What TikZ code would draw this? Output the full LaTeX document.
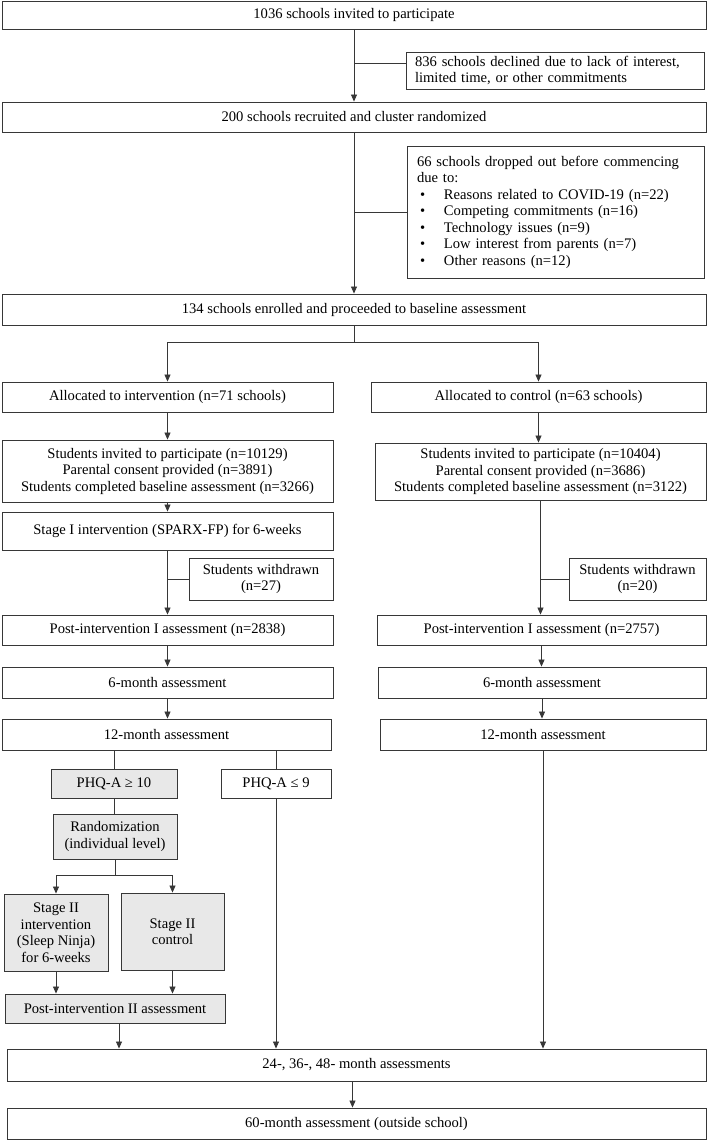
\documentclass[tikz,border=0pt]{standalone}
\usepackage{fontspec}
\setmainfont{Liberation Serif}
\usetikzlibrary{arrows.meta,calc}
\definecolor{boxgray}{RGB}{232,232,232}
\definecolor{linec}{RGB}{55,55,55}
\begin{document}
\begin{tikzpicture}[x=1pt,y=-1pt,
  box/.style={draw=linec, line width=0.9pt, fill=white, inner sep=0pt, align=center, font=\fontsize{14.6}{16.5}\selectfont},
  gbox/.style={box, fill=boxgray},
  conn/.style={draw=linec, line width=0.8pt},
  arr/.style={conn, -{Triangle[length=7pt,width=6pt]}}]
\fill[white] (0,0) rectangle (709,1140);
\useasboundingbox (0,0) rectangle (709,1140);

% top part
\node[box, minimum width=704pt, minimum height=28pt] (b1036) at (354,15) {1036 schools invited to participate};
\node[box, minimum width=298pt, minimum height=37pt, text width=280pt, inner xsep=9pt, align=left] (b836) at (555,70.5) {836 schools declined due to lack of interest,\\limited time, or other commitments};
\node[box, minimum width=704pt, minimum height=30pt] (b200) at (354,117) {200 schools recruited and cluster randomized};
\node[box, minimum width=297pt, minimum height=132pt, text width=277pt, inner xsep=10pt, align=left] (b66) at (555.5,212) {66 schools dropped out before commencing\\due to:\\
\hspace*{3pt}\makebox[24pt][l]{\textbullet}Reasons related to COVID-19 (n=22)\\
\hspace*{3pt}\makebox[24pt][l]{\textbullet}Competing commitments (n=16)\\
\hspace*{3pt}\makebox[24pt][l]{\textbullet}Technology issues (n=9)\\
\hspace*{3pt}\makebox[24pt][l]{\textbullet}Low interest from parents (n=7)\\
\hspace*{3pt}\makebox[24pt][l]{\textbullet}Other reasons (n=12)};
\node[box, minimum width=704pt, minimum height=31pt] (b134) at (354,309.5) {134 schools enrolled and proceeded to baseline assessment};

% allocation
\node[box, minimum width=331pt, minimum height=30pt] (allocL) at (167.5,397) {Allocated to intervention (n=71 schools)};
\node[box, minimum width=335pt, minimum height=30pt] (allocR) at (538.5,397) {Allocated to control (n=63 schools)};
\node[box, minimum width=331pt, minimum height=62pt] (studL) at (167.5,471) {Students invited to participate (n=10129)\\Parental consent provided (n=3891)\\Students completed baseline assessment (n=3266)};
\node[box, minimum width=331pt, minimum height=57pt] (studR) at (540.5,471.5) {Students invited to participate (n=10404)\\Parental consent provided (n=3686)\\Students completed baseline assessment (n=3122)};
\node[box, minimum width=331pt, minimum height=38pt] (stageI) at (167.5,531) {Stage I intervention (SPARX-FP) for 6-weeks};
\node[box, minimum width=144pt, minimum height=42pt] (wdL) at (261,579) {Students withdrawn\\(n=27)};
\node[box, minimum width=137pt, minimum height=42pt] (wdR) at (637.5,579) {Students withdrawn\\(n=20)};
\node[box, minimum width=331pt, minimum height=30pt] (postIL) at (167.5,630) {Post-intervention I assessment (n=2838)};
\node[box, minimum width=329pt, minimum height=30pt] (postIR) at (541.5,630) {Post-intervention I assessment (n=2757)};
\node[box, minimum width=331pt, minimum height=31pt] (m6L) at (167.5,682.5) {6-month assessment};
\node[box, minimum width=328pt, minimum height=31pt] (m6R) at (542,682.5) {6-month assessment};
\node[box, minimum width=329pt, minimum height=31pt] (m12L) at (166.5,734.5) {12-month assessment};
\node[box, minimum width=326pt, minimum height=31pt] (m12R) at (543,734.5) {12-month assessment};

% stage II
\node[gbox, minimum width=126pt, minimum height=29pt] (phq10) at (114,783.5) {PHQ-A ≥ 10};
\node[box, minimum width=110pt, minimum height=29pt] (phq9) at (276,783.5) {PHQ-A ≤ 9};
\node[gbox, minimum width=124pt, minimum height=45pt] (rand) at (115,836.5) {Randomization\\(individual level)};
\node[gbox, minimum width=104pt, minimum height=77pt] (s2int) at (56,932.5) {Stage II\\intervention\\(Sleep Ninja)\\for 6-weeks};
\node[gbox, minimum width=103pt, minimum height=77pt] (s2ctl) at (172.5,931.5) {Stage II\\control};
\node[gbox, minimum width=220pt, minimum height=29pt] (postII) at (115,1008.5) {Post-intervention II assessment};
\node[box, minimum width=699pt, minimum height=32pt] (m24) at (356.5,1065) {24-, 36-, 48- month assessments};
\node[box, minimum width=699pt, minimum height=31pt] (m60) at (356.5,1123.5) {60-month assessment (outside school)};

% connectors top
\draw[arr] (b1036.south) -- (b1036.south |- b200.north);
\draw[conn] ([yshift=7.5pt]b836.west) -- ([yshift=7.5pt]b836.west -| b1036.south);
\draw[arr] (b200.south) -- (b200.south |- b134.north);
\draw[conn] (b66.west) -- (b66.west -| b200.south);

\coordinate (s1) at ($(b134.south)+(0,17)$);
\draw[conn] (b134.south) -- (s1);
\draw[conn] (s1 -| allocL.north) -- (s1 -| allocR.north);
\draw[arr] (s1 -| allocL.north) -- (allocL.north);
\draw[arr] (s1 -| allocR.north) -- (allocR.north);

% left column
\draw[arr] (allocL.south) -- (studL.north);
\draw[arr] (studL.south) -- (stageI.north);
\draw[arr] (stageI.south) -- (stageI.south |- postIL.north);
\draw[conn] (wdL.west) -- (wdL.west -| stageI.south);
\draw[arr] (postIL.south) -- (postIL.south |- m6L.north);
\draw[arr] (m6L.south) -- (m6L.south |- m12L.north);

% right column
\draw[arr] (allocR.south) -- (allocR.south |- studR.north);
\draw[arr] (studR.south) -- (studR.south |- postIR.north);
\draw[conn] (wdR.west) -- (wdR.west -| studR.south);
\draw[arr] (postIR.south) -- (postIR.south |- m6R.north);
\draw[arr] (m6R.south) -- (m6R.south |- m12R.north);
\draw[arr] (m12R.south) -- (m12R.south |- m24.north);

% stage II connectors
\draw[conn] (m12L.south -| phq10.north) -- (phq10.north);
\draw[conn] (m12L.south -| phq9.north) -- (phq9.north);
\draw[conn] (phq10.south) -- (phq10.south |- rand.north);
\coordinate (s2) at ($(rand.south)+(0,16)$);
\draw[conn] (rand.south) -- (s2);
\draw[conn] (s2 -| s2int.north) -- (s2 -| s2ctl.north);
\draw[arr] (s2 -| s2int.north) -- (s2int.north);
\draw[arr] (s2 -| s2ctl.north) -- (s2ctl.north);
\draw[arr] (s2int.south) -- (s2int.south |- postII.north);
\draw[arr] (s2ctl.south) -- (s2ctl.south |- postII.north);
\draw[arr] ([xshift=4pt]postII.south) -- ([xshift=4pt]postII.south |- m24.north);
\draw[arr] (phq9.south) -- (phq9.south |- m24.north);
\draw[arr] ([xshift=-4pt]m24.south) -- ([xshift=-4pt]m24.south |- m60.north);
\end{tikzpicture}
\end{document}
